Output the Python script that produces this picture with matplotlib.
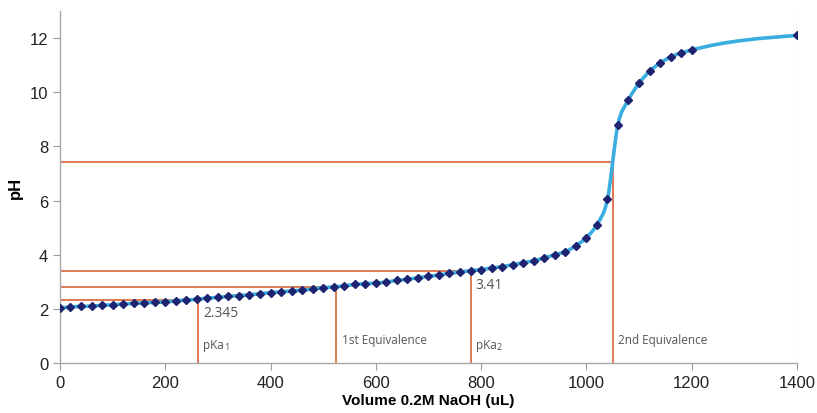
import matplotlib
matplotlib.use("Agg")
import matplotlib.pyplot as plt
from matplotlib.path import Path
from matplotlib.patches import PathPatch

plt.rcParams["font.family"] = ["Liberation Sans", "DejaVu Sans"]

# titration readings: volume of 0.2M NaOH added (uL) vs measured pH
volume = [0, 20, 40, 60, 80, 100, 120, 140, 160, 180, 200, 220, 240, 260,
          280, 300, 320, 340, 360, 380, 400, 420, 440, 460, 480, 500, 520,
          540, 560, 580, 600, 620, 640, 660, 680, 700, 720, 740, 760, 780,
          800, 820, 840, 860, 880, 900, 920, 940, 960, 980, 1000, 1020, 1040,
          1060, 1080, 1100, 1120, 1140, 1160, 1180, 1200, 1400]
ph = [2.03, 2.07, 2.09, 2.10, 2.13, 2.15, 2.18, 2.20, 2.22, 2.24, 2.26, 2.29,
      2.33, 2.35, 2.40, 2.42, 2.46, 2.49, 2.52, 2.56, 2.60, 2.63, 2.66, 2.69,
      2.73, 2.78, 2.81, 2.85, 2.90, 2.93, 2.95, 2.99, 3.05, 3.09, 3.15, 3.20,
      3.25, 3.31, 3.36, 3.41, 3.45, 3.51, 3.56, 3.63, 3.70, 3.78, 3.88, 4.00,
      4.11, 4.33, 4.63, 5.11, 6.04, 8.80, 9.72, 10.33, 10.77, 11.08, 11.30,
      11.45, 11.56, 12.10]

# reference points: (volume, pH, label)
ref_vol = [262, 525, 780, 1050]
ref_ph = [2.345, 2.81, 3.41, 7.43]
ref_names = ["pKa", "1st Equivalence", "pKa", "2nd Equivalence"]
ref_subs = ["1", "", "2", ""]
ph_labels = ["2.345", None, "3.41", None]


def smooth_path(xs, ys):
    """Smoothed line: cubic Hermite segments (as Bezier) through every reading."""
    n = len(xs)
    h = [xs[i + 1] - xs[i] for i in range(n - 1)]
    d = [(ys[i + 1] - ys[i]) / h[i] for i in range(n - 1)]
    m = [0.0] * n
    for i in range(1, n - 1):
        m[i] = (h[i] * d[i - 1] + h[i - 1] * d[i]) / (h[i - 1] + h[i])
    m[0] = (3 * d[0] - m[1]) / 2
    m[-1] = (3 * d[-1] - m[-2]) / 2
    verts = [(xs[0], ys[0])]
    codes = [Path.MOVETO]
    for i in range(n - 1):
        k = h[i] / 3
        verts += [(xs[i] + k, ys[i] + m[i] * k),
                  (xs[i + 1] - k, ys[i + 1] - m[i + 1] * k),
                  (xs[i + 1], ys[i + 1])]
        codes += [Path.CURVE4] * 3
    return Path(verts, codes)


fig = plt.figure(figsize=(8.17, 4.14), dpi=100)
ax = fig.add_axes([0.0734, 0.1208, 0.902, 0.850])

orange = "#e07a55"
for v, p in zip(ref_vol, ref_ph):
    ax.plot([0, v], [p, p], color=orange, lw=1.4, zorder=2)
    ax.plot([v, v], [0, p], color=orange, lw=1.4, zorder=2)

ax.add_patch(PathPatch(smooth_path(volume, ph), facecolor="none",
                       edgecolor="#3aaee0", lw=2.6, zorder=3))
ax.plot(volume, ph, ls="none", marker="D", ms=4.2, color="#1e2470", zorder=4)

fam = ["Open Sans", "DejaVu Sans"]
for v, name, sub in zip(ref_vol, ref_names, ref_subs):
    y = 0.55 if sub else 0.75
    t = ax.text(v + 10, y, name, ha="left", va="baseline", color="#555555",
                fontsize=8.5, family=fam)
    if sub:
        ax.annotate(sub, xy=(1, 0), xycoords=t, xytext=(0, 0),
                    textcoords="offset points", ha="left", va="bottom",
                    color="#555555", fontsize=6.5, family=fam)
for v, p, lab in zip(ref_vol, ref_ph, ph_labels):
    if lab:
        ax.text(v + 10, p - 0.22, lab, ha="left", va="top", color="#555555",
                fontsize=10, family=fam)

# faint marker line at the last reading
ax.axvline(1400, color="#eef0e0", lw=1.0, zorder=1)

ax.set_xlim(0, 1400)
ax.set_ylim(0, 13)
ax.set_xticks(range(0, 1401, 200))
ax.set_yticks(range(0, 13, 2))
ax.tick_params(labelsize=12, colors="#222222", length=5, width=0.8)
ax.tick_params(axis="both", color="#999999")
for s in ("top", "right"):
    ax.spines[s].set_visible(False)
for s in ("left", "bottom"):
    ax.spines[s].set_color("#aaaaaa")
    ax.spines[s].set_linewidth(1.0)

ax.set_xlabel("Volume 0.2M NaOH (uL)", fontsize=11, fontweight="bold", labelpad=2)
ax.set_ylabel("pH", fontsize=12, fontweight="bold", labelpad=5)

fig.savefig("out.png", dpi=100)
